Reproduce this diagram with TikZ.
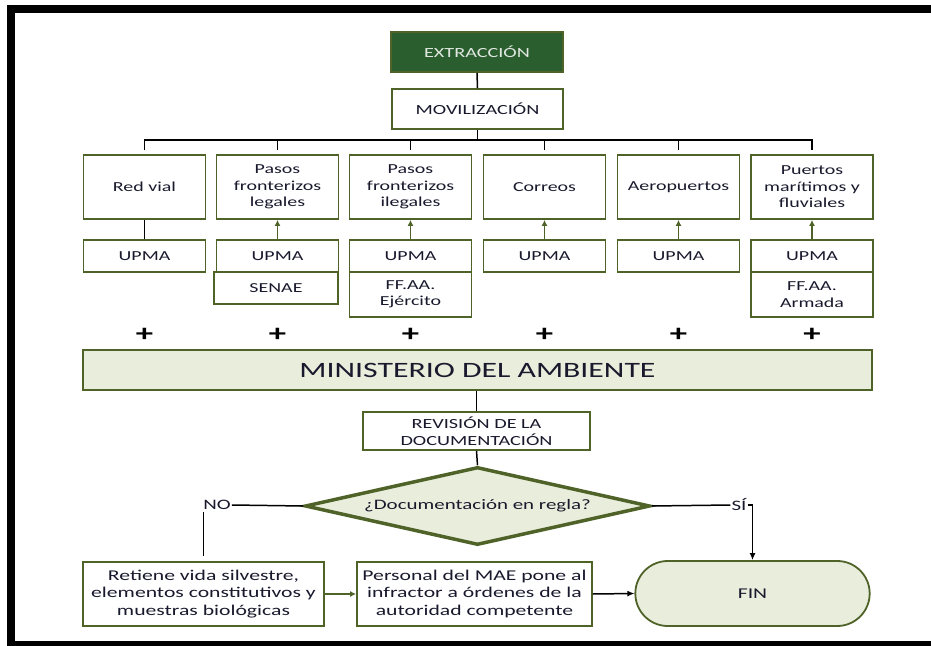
\documentclass[tikz,border=0pt]{standalone}
\usepackage{fontspec}
\setmainfont{Carlito}[FakeStretch=1.45]
\usetikzlibrary{arrows.meta,shapes.geometric,shapes.misc}
\definecolor{oliveB}{RGB}{79,98,40}
\definecolor{lfill}{RGB}{233,238,220}
\definecolor{dkgreen}{RGB}{42,94,47}
\definecolor{txt}{RGB}{25,25,45}
\definecolor{exttxt}{RGB}{225,232,225}
\tikzset{
  box/.style={draw=oliveB, line width=1.8pt, text=txt, align=center, inner sep=2pt,
    font=\fontsize{13.8}{16.5}\selectfont},
  topbox/.style={box, minimum width=122bp, minimum height=64bp},
  upbox/.style={box, minimum width=122bp, minimum height=32bp},
  btbox/.style={box, minimum height=64bp, font=\fontsize{15}{17.5}\selectfont},
  conn/.style={line width=1.5pt, black},
  upar/.style={line width=1.5pt, oliveB, -{Latex[length=6pt,width=6pt]}},
  plus/.style={text=black, font=\fontsize{24}{24}\selectfont\bfseries, inner sep=0pt},
  lbl/.style={text=txt, inner sep=1pt, font=\fontsize{14.5}{17}\selectfont}
}
\begin{document}
\begin{tikzpicture}[x=1bp,y=-1bp]
\path[use as bounding box, fill=white] (0,0) rectangle (931,646);
% frame (open on the right: it runs past the picture's edge)
\draw[line width=8bp] (931,9) -- (11,9) -- (11,645) -- (931,645);

\node[box, fill=dkgreen, text=exttxt, minimum width=172bp, minimum height=40bp,
  font=\fontsize{14}{17}\selectfont] (ext) at (477,52) {EXTRACCIÓN};
\node[box, minimum width=171bp, minimum height=40bp,
  font=\fontsize{14}{17}\selectfont] (mov) at (477.5,109) {MOVILIZACIÓN};
\draw[conn] (ext.south) -- (mov.north);

\node[topbox] (b1) at (144.5,187) {Red vial};
\node[topbox] (b2) at (277.5,187) {Pasos\\fronterizos\\legales};
\node[topbox] (b3) at (410.5,187) {Pasos\\fronterizos\\ilegales};
\node[topbox] (b4) at (544.5,187) {Correos};
\node[topbox] (b5) at (678.5,187) {Aeropuertos};
\node[topbox] (b6) at (812,187) {Puertos\\marítimos y\\fluviales};

\coordinate (bus) at (477.5,140);
\draw[conn] (mov.south) -- (bus);
\draw[conn, shorten <=4pt, shorten >=4pt] (b1.north) -- (b1.north |- bus) -- (b6.north |- bus) -- (b6.north);
\foreach \i in {2,...,5} \draw[conn, shorten >=4pt] (b\i.north |- bus) -- (b\i.north);

\node[upbox] (u1) at (144.5,256) {UPMA};
\node[upbox] (u2) at (277.5,256) {UPMA};
\node[upbox] (u3) at (410.5,256) {UPMA};
\node[upbox] (u4) at (544.5,256) {UPMA};
\node[upbox] (u5) at (678.5,256) {UPMA};
\node[upbox] (u6) at (812,256) {UPMA};
\node[box, minimum width=124bp, minimum height=32bp] (s2) at (276,288) {SENAE};
\node[box, minimum width=122bp, minimum height=45bp] (s3) at (410.5,294.5) {FF.AA.\\Ejército};
\node[box, minimum width=122bp, minimum height=45bp] (s6) at (812,294.5) {FF.AA.\\Armada};

\draw[conn] (u1.north) -- (b1.south);
\foreach \i in {2,...,6} \draw[upar] (u\i.north) -- (b\i.south);

\foreach \x/\n in {144.5/1,277.5/2,410.5/3,544.5/4,678.5/5,812/6}
  \node[plus] (p\n) at (\x,335) {+};

\node[box, fill=lfill, minimum width=789bp, minimum height=40bp,
  font=\fontsize{22}{26}\selectfont] (min) at (477.5,370) {MINISTERIO DEL AMBIENTE};
\node[box, minimum width=227bp, minimum height=38bp,
  font=\fontsize{14}{17}\selectfont] (rev) at (476.5,431) {REVISIÓN DE LA\\DOCUMENTACIÓN};
\draw[conn] (min.south -| rev.north) -- (rev.north);

\node[diamond, draw=oliveB, line width=3.5pt, fill=lfill, aspect=4.4, inner sep=0pt,
  minimum width=345bp, minimum height=78bp, text=txt,
  font=\fontsize{14.5}{17}\selectfont] (d) at (477.5,506) {¿Documentación en regla?};
\draw[conn] (rev.south) -- (d.north);

\node[lbl] (no) at (217,505) {NO};
\node[lbl] (si) at (739,505) {SÍ};

\node[btbox, minimum width=241bp] (ret) at (203.5,594) {Retiene vida silvestre,\\elementos constitutivos y\\muestras biológicas};
\node[btbox, minimum width=235bp] (per) at (474.5,594) {Personal del MAE pone al\\infractor a órdenes de la\\autoridad competente};
\node[rounded rectangle, draw=oliveB, line width=1.8pt, fill=lfill, text=txt,
  minimum width=241bp, minimum height=65bp, font=\fontsize{15}{17.5}\selectfont] (fin) at (752.5,593.5) {FIN};

\draw[conn] (d.west) -- (no.east);
\draw[conn, shorten <=1pt, shorten >=5pt] (no.south -| ret.north) -- (ret.north);
\draw[conn] (d.east) -- (si.west);
\draw[conn, -{Latex[length=7pt,width=6pt]}] (si.east) -- (si.east -| fin.north) -- (fin.north);
\draw[upar] (ret.east) -- (per.west);
\draw[conn, -{Latex[length=7pt,width=6pt]}] (per.east) -- (fin.west);
\end{tikzpicture}
\end{document}
